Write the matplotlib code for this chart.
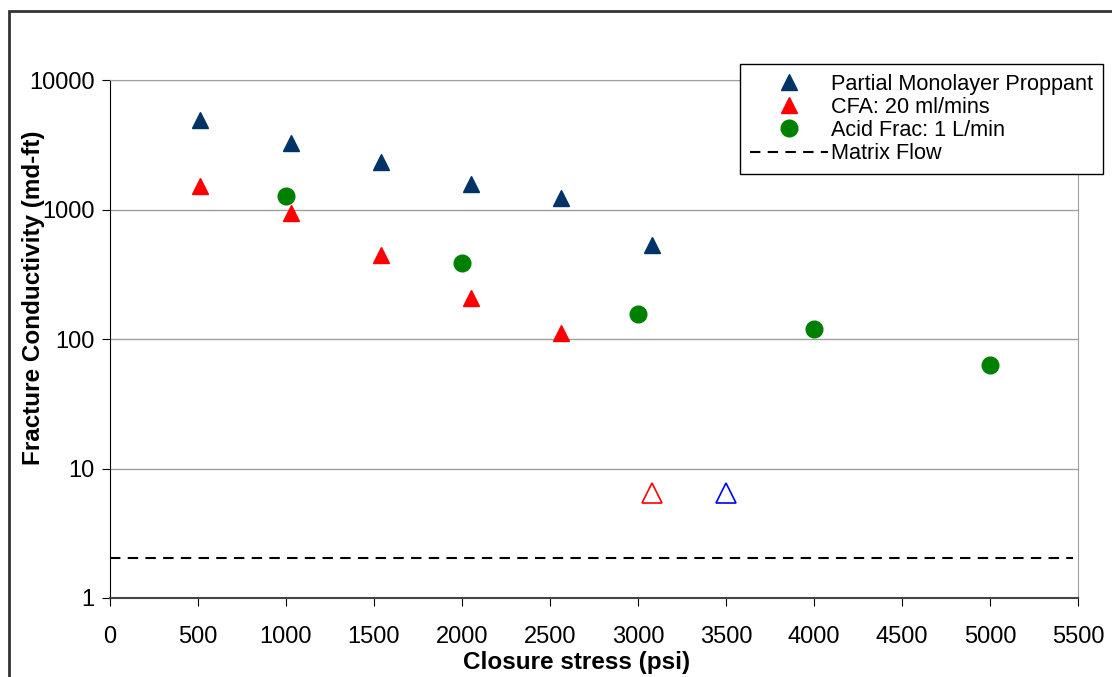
import numpy as np
import matplotlib.pyplot as plt
from matplotlib.patches import Rectangle

plt.rcParams['font.family'] = ['Liberation Sans', 'DejaVu Sans']

# Data
pmp_x = [510, 1030, 1540, 2050, 2560, 3080]
pmp_y = [4900, 3250, 2330, 1570, 1230, 530]

cfa_x = [510, 1030, 1540, 2050, 2560]
cfa_y = [1520, 940, 445, 207, 111]

acid_x = [1000, 2000, 3000, 4000, 5000]
acid_y = [1270, 385, 156, 119, 63]

open_red_x = [3080]
open_red_y = [6.5]
open_blue_x = [3500]
open_blue_y = [6.5]

matrix_flow = 2.05

xticks = np.arange(0, 5501, 500)
yticks = [1, 10, 100, 1000, 10000]

fig = plt.figure(figsize=(11.12, 6.77), dpi=100)
ax = fig.add_axes([0.0989, 0.1167, 0.8705, 0.7651])

# outer chart frame
fig.patches.append(Rectangle((0.0085, -0.05), 1.2, 1.034, transform=fig.transFigure,
                             fill=False, edgecolor='#333333', linewidth=2))

ax.set_yscale('log')
ax.set_xlim(0, 5500)
ax.set_ylim(1, 10000)
ax.set_xticks(xticks)
ax.set_xticklabels([str(t) for t in xticks])
ax.set_yticks(yticks)
ax.set_yticklabels([str(t) for t in yticks])
ax.yaxis.set_minor_locator(plt.NullLocator())
ax.grid(axis='y', color='#a0a0a0', linewidth=1)
ax.set_axisbelow(True)

ax.plot(pmp_x, pmp_y, linestyle='none', marker='^', ms=12, color='#003366',
        markeredgecolor='#003366', label='Partial Monolayer Proppant', zorder=3)
ax.plot(cfa_x, cfa_y, linestyle='none', marker='^', ms=12, color='#ff0000',
        markeredgecolor='#ff0000', label='CFA: 20 ml/mins', zorder=3)
ax.plot(acid_x, acid_y, linestyle='none', marker='o', ms=12, color='#008000',
        markeredgecolor='#008000', label='Acid Frac: 1 L/min', zorder=3)
ax.axhline(matrix_flow, xmin=0, xmax=0.995, color='black', linestyle=(0, (5, 3.5)),
           linewidth=1.5, label='Matrix Flow')
ax.plot(open_red_x, open_red_y, linestyle='none', marker='^', ms=15, mfc='none',
        mec='#ff0000', mew=1.2, zorder=3)
ax.plot(open_blue_x, open_blue_y, linestyle='none', marker='^', ms=15, mfc='none',
        mec='#0000ff', mew=1.2, zorder=3)

for side in ['top', 'right']:
    ax.spines[side].set_color('#a0a0a0')
ax.spines['left'].set_color('black')
ax.spines['bottom'].set_color('#444444')
ax.spines['bottom'].set_linewidth(1.5)
ax.tick_params(axis='both', labelsize=17, length=6, direction='out', color='black')
ax.tick_params(axis='x', pad=14)
ax.tick_params(axis='y', pad=5)

ax.set_xlabel('Closure stress (psi)', fontsize=17.5, fontweight='bold')
ax.set_ylabel('Fracture Conductivity (md-ft)', fontsize=17.5, fontweight='bold')
ax.xaxis.set_label_coords(0.482, -0.102)
ax.yaxis.set_label_coords(-0.0672, 0.58)

leg = ax.legend(loc='upper right', bbox_to_anchor=(1.026, 1.031), fontsize=15.6,
                frameon=True, fancybox=False, edgecolor='black', framealpha=1,
                borderpad=0.45, labelspacing=0.1, handlelength=3.6, handletextpad=0.15,
                borderaxespad=0)
leg.get_frame().set_linewidth(1)

fig.savefig('out.png', dpi=100)
